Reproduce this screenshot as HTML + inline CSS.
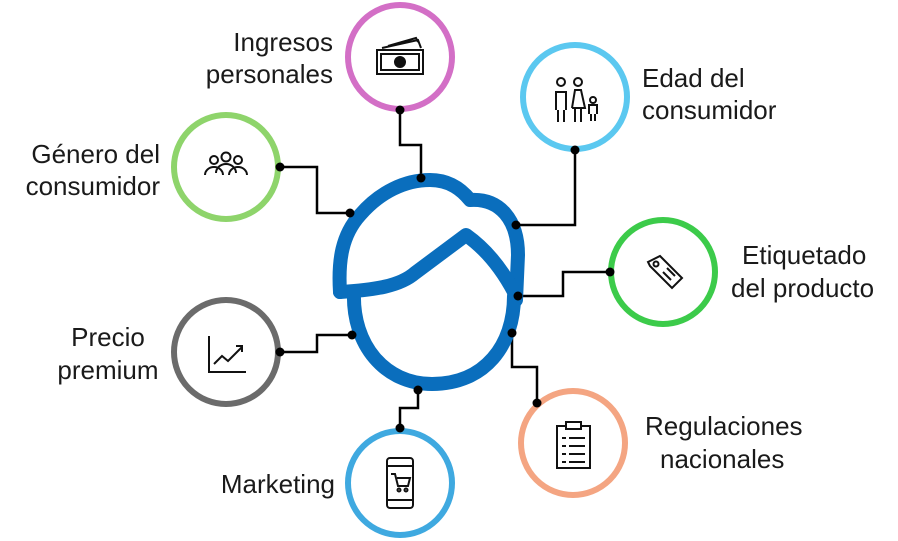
<!DOCTYPE html>
<html><head><meta charset="utf-8"><style>
html,body{margin:0;padding:0;background:#fff;}
svg{display:block}
text{font-family:"Liberation Sans",sans-serif;font-size:26px;fill:#1a1a1a;}
</style></head><body>
<svg width="898" height="541" viewBox="0 0 898 541" xmlns="http://www.w3.org/2000/svg">
<g fill="none" stroke-width="6">
<circle cx="400" cy="57" r="52" stroke="#D36FC6"/>
<circle cx="575" cy="97" r="52" stroke="#5BC8F0"/>
<circle cx="226" cy="167" r="52" stroke="#8ED46B"/>
<circle cx="663" cy="272" r="52" stroke="#3CCB4A"/>
<circle cx="226" cy="352" r="52" stroke="#6B6B6B"/>
<circle cx="573" cy="443" r="52" stroke="#F4A582"/>
<circle cx="400" cy="483" r="52" stroke="#3FA9E0"/>
</g>
<g fill="none" stroke="#000" stroke-width="2.5">
<polyline points="400,110 400,145 421,145 421,178"/>
<polyline points="575,150 575,225 516,225"/>
<polyline points="280,167 317,167 317,213 350,213"/>
<polyline points="610,272 563,272 563,296 518,296"/>
<polyline points="280,352 317,352 317,335 352,335"/>
<polyline points="512,333 512,367 537,367 537,403"/>
<polyline points="400,428 400,408 418,408 418,390"/>
</g>
<g fill="none" stroke="#0A6EBD" stroke-width="14" stroke-linejoin="round" stroke-linecap="round">
<path d="M340,292 C338,260 342,235 360,215 C380,192 405,180 430,180 C450,180 462,190 470,200 C500,198 518,220 518,255 L516,300"/>
<path d="M354,292 C352,345 385,384 432,384 C485,384 514,345 514,296"/>
<path d="M340,292 C375,290 400,286 415,273 L466,235 C490,252 505,275 514,292"/>
</g>
<g fill="#000">
<circle cx="400" cy="110" r="4.5"/><circle cx="421" cy="178" r="4.5"/>
<circle cx="575" cy="150" r="4.5"/><circle cx="516" cy="225" r="4.5"/>
<circle cx="280" cy="167" r="4.5"/><circle cx="350" cy="213" r="4.5"/>
<circle cx="610" cy="272" r="4.5"/><circle cx="518" cy="296" r="4.5"/>
<circle cx="280" cy="352" r="4.5"/><circle cx="352" cy="335" r="4.5"/>
<circle cx="512" cy="333" r="4.5"/><circle cx="537" cy="403" r="4.5"/>
<circle cx="400" cy="428" r="4.5"/><circle cx="418" cy="390" r="4.5"/>
</g>
<g fill="none" stroke="#111" stroke-width="2">
<rect x="377" y="50" width="46" height="24"/><rect x="381" y="54" width="38" height="16"/>
<circle cx="400" cy="62" r="5" fill="#111"/>
<path d="M382,48 L418,40 L421,48 M388,46 L416,38 L418,42"/>
<circle cx="561" cy="82" r="4"/><circle cx="578" cy="82" r="4"/><circle cx="593" cy="100" r="3"/>
<path d="M556,110 V92 h10 V110 M558,110 V122 M564,110 V122"/>
<path d="M572,108 L575,90 h6 L585,108 h-13 M575,108 V122 M581,108 V122"/>
<path d="M589,114 V105 h8 V114 M591,114 V121 M595,114 V121"/>
<circle cx="214" cy="160" r="4"/><circle cx="226" cy="157" r="4.5"/><circle cx="238" cy="160" r="4"/>
<path d="M205,175 a9,8 0 0 1 18,0 M216,173 a10,9 0 0 1 20,0 M229,175 a9,8 0 0 1 18,0"/>
<path d="M648,262 l12,-6 l22,22 l-10,10 l-22,-22 z"/><circle cx="656" cy="264" r="2.5"/>
<path d="M663,272 l8,8 M667,268 l8,8"/>
<path d="M209,336 V372 H246"/><path d="M214,364 l8,-8 l6,5 l14,-14 M236,346 h6 v6"/>
<rect x="557" y="426" width="33" height="42"/><rect x="566" y="422" width="15" height="7" fill="#fff"/>
<path d="M562,438 h4 M569,438 h16 M562,446 h4 M569,446 h16 M562,454 h4 M569,454 h16 M562,462 h4 M569,462 h16"/>
<rect x="387" y="458" width="26" height="50" rx="3"/><path d="M387,466 h26 M387,500 h26"/>
<path d="M391,474 h4 l3,12 h10 l2,-8 h-13"/><circle cx="399" cy="490" r="1.5"/><circle cx="406" cy="490" r="1.5"/>
</g>
<text x="333" y="51" text-anchor="end">Ingresos</text>
<text x="333" y="83" text-anchor="end">personales</text>
<text x="642" y="87">Edad del</text>
<text x="642" y="119">consumidor</text>
<text x="160" y="163" text-anchor="end">Género del</text>
<text x="160" y="195" text-anchor="end">consumidor</text>
<text x="742" y="264">Etiquetado</text>
<text x="731" y="297">del producto</text>
<text x="108" y="346" text-anchor="middle">Precio</text>
<text x="108" y="379" text-anchor="middle">premium</text>
<text x="645" y="435">Regulaciones</text>
<text x="660" y="468">nacionales</text>
<text x="335" y="493" text-anchor="end">Marketing</text>
</svg>
</body></html>
